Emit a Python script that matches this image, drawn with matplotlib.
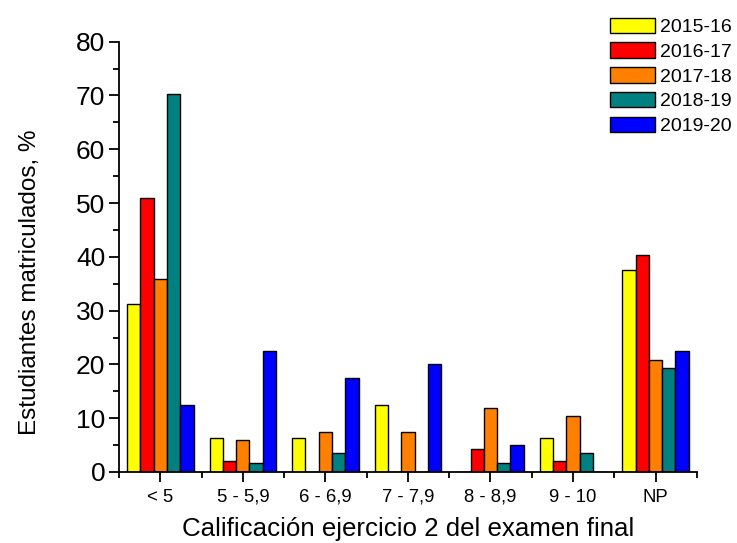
import numpy as np
import matplotlib.pyplot as plt
from matplotlib.ticker import MultipleLocator

plt.rcParams['font.family'] = ['Liberation Sans', 'DejaVu Sans']

# Distribución de calificaciones por curso (%)
categorias = ['< 5', '5 - 5,9', '6 - 6,9', '7 - 7,9', '8 - 8,9', '9 - 10', 'NP']
cursos = ['2015-16', '2016-17', '2017-18', '2018-19', '2019-20']
v_2015_16 = [31.25, 6.25, 6.25, 12.5, 0.0, 6.25, 37.5]
v_2016_17 = [51.0, 2.1, 0.0, 0.0, 4.3, 2.1, 40.4]
v_2017_18 = [35.8, 6.0, 7.5, 7.5, 11.9, 10.4, 20.9]
v_2018_19 = [70.2, 1.75, 3.5, 0.0, 1.75, 3.5, 19.3]
v_2019_20 = [12.5, 22.5, 17.5, 20.0, 5.0, 0.0, 22.5]
series = [v_2015_16, v_2016_17, v_2017_18, v_2018_19, v_2019_20]
colores = ['#ffff00', '#ff0000', '#ff8000', '#008080', '#0000ff']

fig = plt.figure(figsize=(7.37, 5.43), dpi=100)
ax = fig.add_axes([0.1615, 0.1308, 0.784, 0.7924])

x = np.arange(len(categorias))
ancho = 0.161
for i, (vals, col, lab) in enumerate(zip(series, colores, cursos)):
    ax.bar(x + (i - 2) * ancho, vals, width=ancho, color=col,
           edgecolor='black', linewidth=1.0, label=lab)

ax.set_xlim(-0.5, len(categorias) - 0.5)
ax.set_ylim(0, 80)
ax.set_xticks(x)
ax.set_xticklabels(categorias, fontsize=13.3)
ax.xaxis.set_minor_locator(MultipleLocator(1, offset=0.5))
ax.yaxis.set_major_locator(MultipleLocator(10))
ax.yaxis.set_minor_locator(MultipleLocator(5))
ax.tick_params(axis='y', labelsize=19, width=1.3, length=7, pad=3)
ax.tick_params(axis='x', width=1.3, length=7, pad=5)
ax.tick_params(which='minor', width=1.3, length=4)

for s in ['top', 'right']:
    ax.spines[s].set_visible(False)
for s in ['left', 'bottom']:
    ax.spines[s].set_linewidth(1.3)

ax.set_xlabel('Calificación ejercicio 2 del examen final', fontsize=18.6, labelpad=8)
ax.set_ylabel('Estudiantes matriculados, %', fontsize=17.5, labelpad=24)
ax.yaxis.set_label_coords(-0.135, 0.44)

fig.legend(loc='upper left', bbox_to_anchor=(602 / 737, 1 - 10 / 543),
           frameon=False, fontsize=14, handlelength=2.3, handleheight=0.85,
           handletextpad=0.3, labelspacing=0.32, borderaxespad=0)

fig.savefig('out.png', dpi=100)
